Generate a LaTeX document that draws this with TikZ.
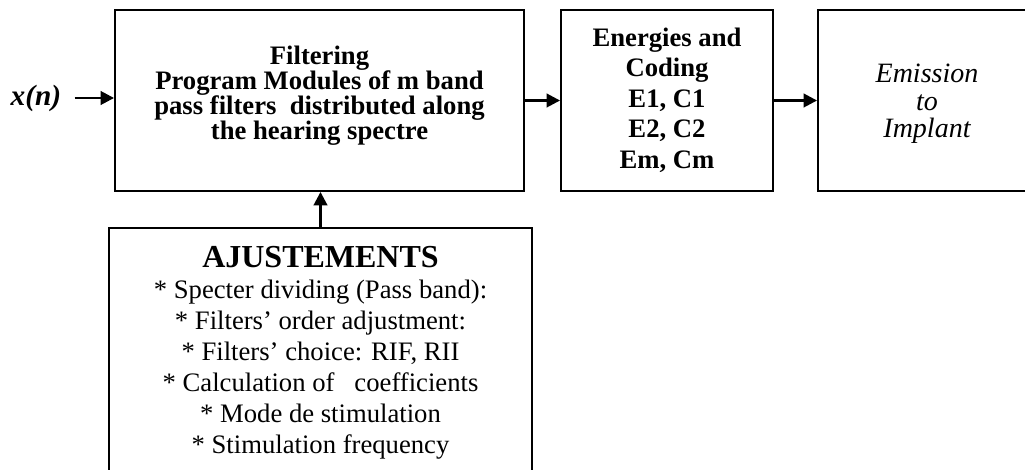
\documentclass[tikz,border=0pt]{standalone}
\usepackage{fontspec}
\setmainfont{Liberation Serif}
\usetikzlibrary{arrows.meta}
\newcommand\tightls{\lineskiplimit=-30pt\relax}
\begin{document}
\begin{tikzpicture}[x=0.75pt,y=-0.75pt,
  box/.style={draw,line width=1.4pt,rectangle,inner sep=0pt},
  txt/.style={inner sep=0pt,align=center},
  arr/.style={line width=2pt,-{Triangle[length=10pt,width=10pt]}}]
\useasboundingbox (0,0) rectangle (1025,470);
\clip (0,0) rectangle (1025,470);
% boxes
\node[box,minimum width=306.75pt,minimum height=135.75pt] (filt) at (319.5,100.5) {};
\node[box,minimum width=159pt,minimum height=135.75pt] (ener) at (667,100.5) {};
\node[box,minimum width=163.5pt,minimum height=135.75pt] (emis) at (927,100.5) {};
\node[box,minimum width=317.25pt,minimum height=184.5pt] (adj) at (320.5,351) {};
% texts
\node[txt,font=\bfseries\fontsize{20}{18.75}\selectfont\tightls] (filttxt) at (319.5,96)
  {Filtering\\Program Modules of m band\\pass filters\ \ distributed along\\the hearing spectre};
\node[txt,font=\bfseries\fontsize{20}{22.9}\selectfont\tightls] (enertxt) at (667,100)
  {Energies and\\Coding\\E1, C1\\E2, C2\\Em, Cm};
\node[txt,font=\itshape\fontsize{21}{20.5}\selectfont\tightls] (emistxt) at (927,104)
  {Emission\\to\\Implant};
\node[txt,font=\fontsize{20}{23.25}\selectfont\tightls] (adjtxt) at (320.5,352.5)
  {{\bfseries\fontsize{24}{23.25}\selectfont AJUSTEMENTS}\\
   * Specter dividing (Pass band):\\
   * Filters' order adjustment:\\
   * Filters' choice: RIF, RII\\
   * Calculation of\ \ \ coefficients\\
   * Mode de stimulation\\
   * Stimulation frequency};
\node[inner sep=0pt,font=\bfseries\itshape\fontsize{22}{22}\selectfont] (xn) at (36,98) {x(n)};
% connectors
\draw[arr,shorten <=9.75pt] (xn.east) -- (filt.west |- xn.east);
\draw[arr] (filt) -- (ener);
\draw[arr] (ener) -- (emis);
\draw[arr] (adj.north) -- (adj.north |- filt.south);
\end{tikzpicture}
\end{document}
